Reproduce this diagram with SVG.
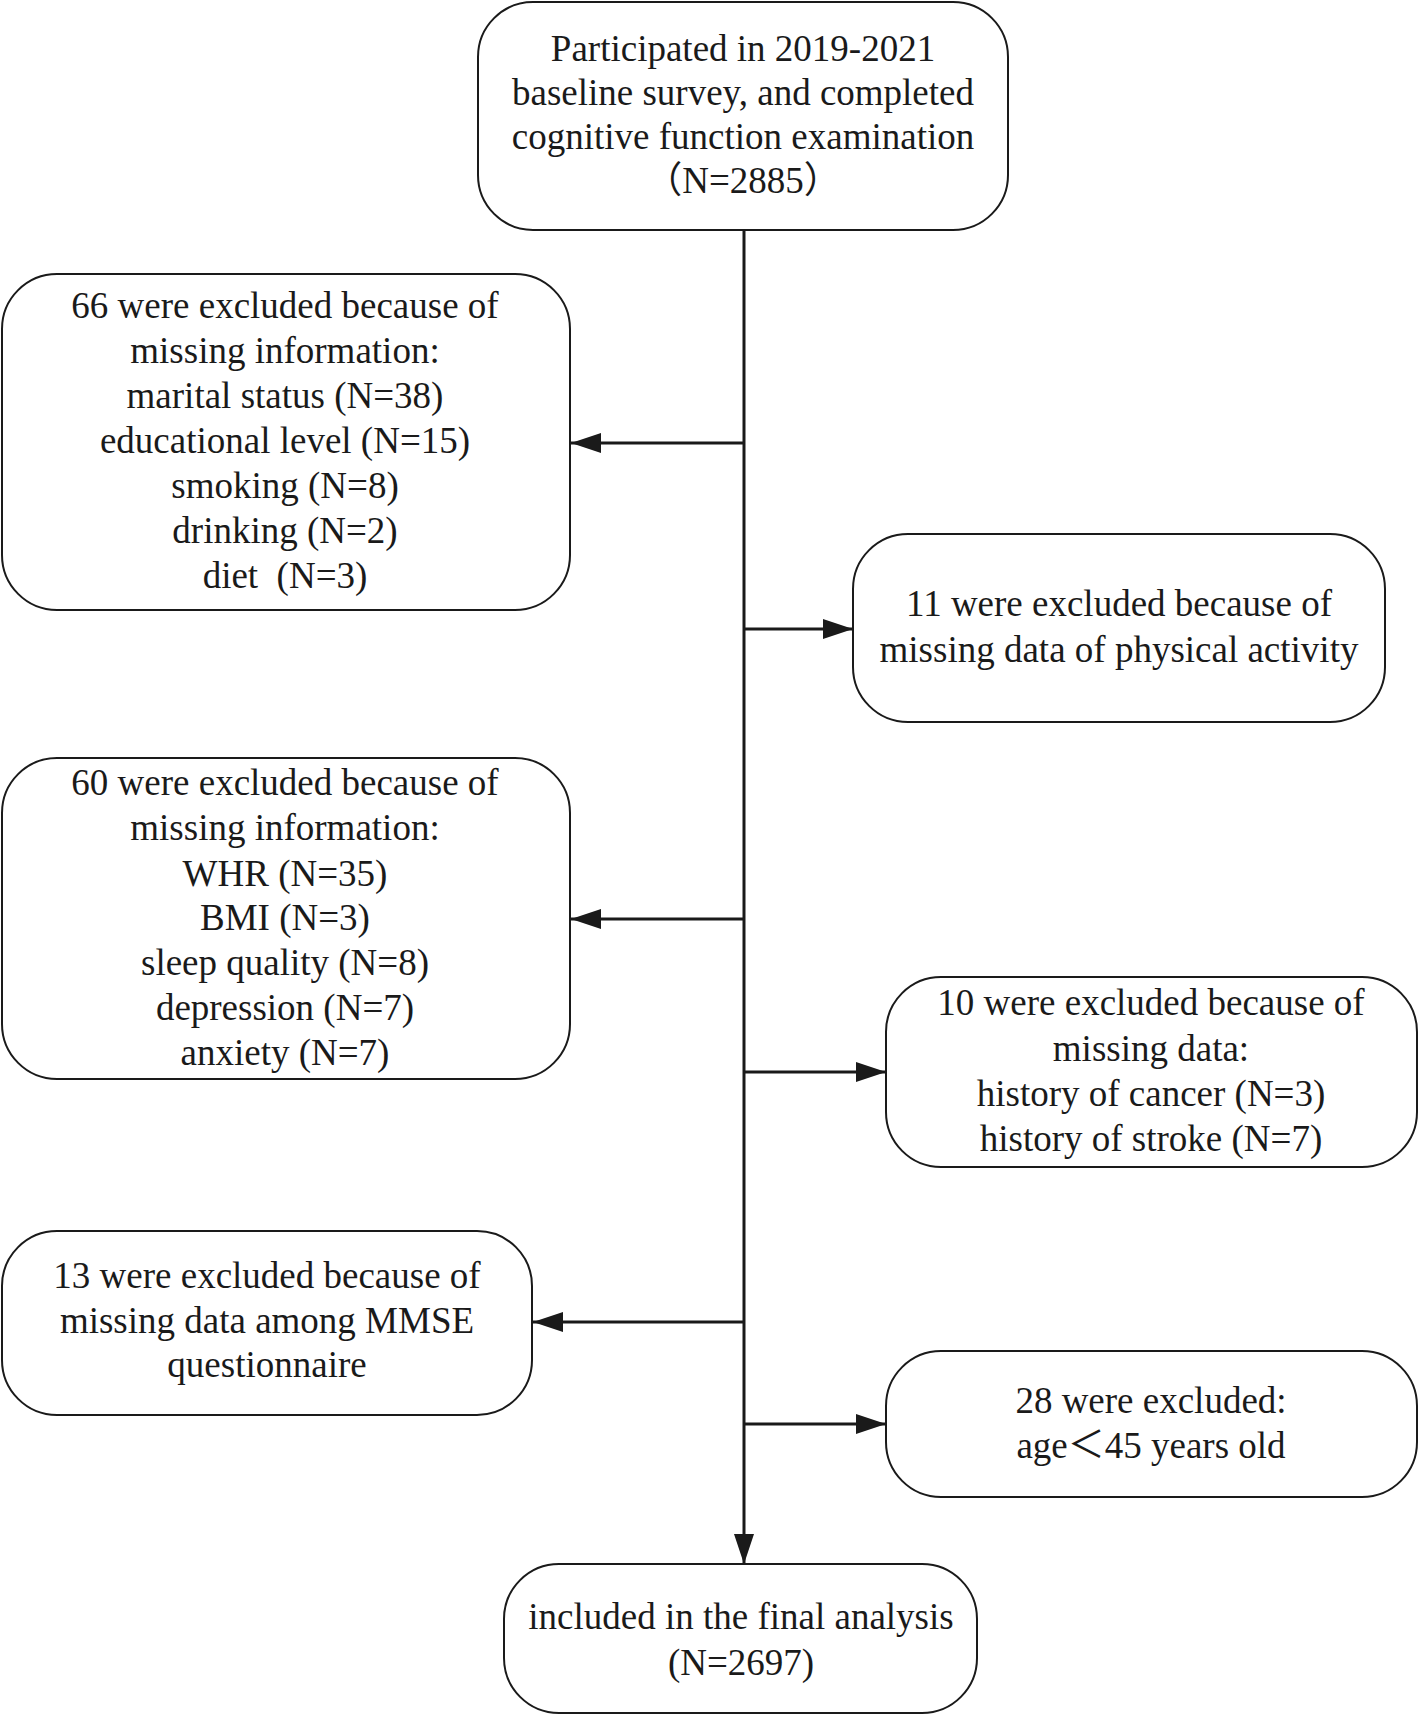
<svg xmlns="http://www.w3.org/2000/svg" width="1419" height="1716" viewBox="0 0 1419 1716">
<style>
.box{fill:#fff;stroke:#1a1a1a;stroke-width:2}
.t{font-family:'Liberation Serif','Noto Sans CJK SC',serif;font-size:37px;fill:#1a1a1a;text-anchor:middle}
.c{stroke:#1a1a1a;stroke-width:3;fill:none}
</style>
<defs>
<marker id="ah" markerUnits="userSpaceOnUse" markerWidth="30" markerHeight="20" refX="30" refY="10" orient="auto">
<path d="M0,0 L30,10 L0,20 z" fill="#1a1a1a"/>
</marker>
</defs>
<rect width="1419" height="1716" fill="#fff"/>
<g id="connectors">
<line class="c" x1="744" y1="230" x2="744" y2="1564" marker-end="url(#ah)"/>
<line class="c" x1="744" y1="443" x2="571" y2="443" marker-end="url(#ah)"/>
<line class="c" x1="744" y1="629" x2="853" y2="629" marker-end="url(#ah)"/>
<line class="c" x1="744" y1="919" x2="571" y2="919" marker-end="url(#ah)"/>
<line class="c" x1="744" y1="1072" x2="886" y2="1072" marker-end="url(#ah)"/>
<line class="c" x1="744" y1="1322" x2="533" y2="1322" marker-end="url(#ah)"/>
<line class="c" x1="744" y1="1424" x2="886" y2="1424" marker-end="url(#ah)"/>
</g>
<g id="n1">
<rect class="box" x="478" y="2" width="530" height="228" rx="55"/>
<text class="t" x="743" y="61">Participated in 2019-2021</text>
<text class="t" x="743" y="105">baseline survey, and completed</text>
<text class="t" x="743" y="149">cognitive function examination</text>
<text class="t" x="743" y="193">（N=2885）</text>
</g>
<g id="n2">
<rect class="box" x="2" y="274" width="568" height="336" rx="55"/>
<text class="t" x="285" y="318">66 were excluded because of</text>
<text class="t" x="285" y="363">missing information:</text>
<text class="t" x="285" y="408">marital status (N=38)</text>
<text class="t" x="285" y="453">educational level (N=15)</text>
<text class="t" x="285" y="498">smoking (N=8)</text>
<text class="t" x="285" y="543">drinking (N=2)</text>
<text class="t" x="285" y="588">diet&#160; (N=3)</text>
</g>
<g id="n3">
<rect class="box" x="853" y="534" width="532" height="188" rx="55"/>
<text class="t" x="1119" y="616">11 were excluded because of</text>
<text class="t" x="1119" y="662">missing data of physical activity</text>
</g>
<g id="n4">
<rect class="box" x="2" y="758" width="568" height="321" rx="55"/>
<text class="t" x="285" y="795">60 were excluded because of</text>
<text class="t" x="285" y="840">missing information:</text>
<text class="t" x="285" y="886">WHR (N=35)</text>
<text class="t" x="285" y="930">BMI (N=3)</text>
<text class="t" x="285" y="975">sleep quality (N=8)</text>
<text class="t" x="285" y="1020">depression (N=7)</text>
<text class="t" x="285" y="1065">anxiety (N=7)</text>
</g>
<g id="n5">
<rect class="box" x="886" y="977" width="531" height="190" rx="55"/>
<text class="t" x="1151" y="1015">10 were excluded because of</text>
<text class="t" x="1151" y="1061">missing data:</text>
<text class="t" x="1151" y="1106">history of cancer (N=3)</text>
<text class="t" x="1151" y="1151">history of stroke (N=7)</text>
</g>
<g id="n6">
<rect class="box" x="2" y="1231" width="530" height="184" rx="55"/>
<text class="t" x="267" y="1288">13 were excluded because of</text>
<text class="t" x="267" y="1333">missing data among MMSE</text>
<text class="t" x="267" y="1377">questionnaire</text>
</g>
<g id="n7">
<rect class="box" x="886" y="1351" width="531" height="146" rx="55"/>
<text class="t" x="1151" y="1413">28 were excluded:</text>
<text class="t" x="1151" y="1458">age＜45 years old</text>
</g>
<g id="n8">
<rect class="box" x="504" y="1564" width="473" height="149" rx="55"/>
<text class="t" x="741" y="1629">included in the final analysis</text>
<text class="t" x="741" y="1675">(N=2697)</text>
</g>
</svg>
